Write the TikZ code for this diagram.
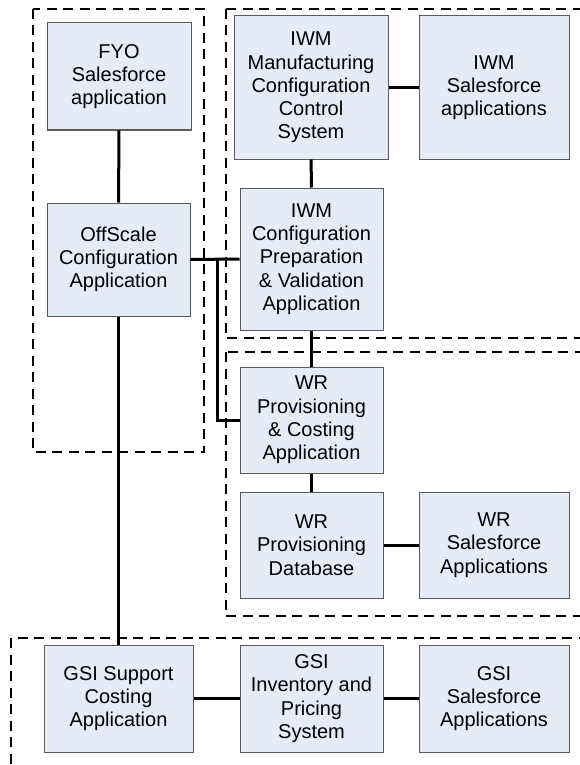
\documentclass[tikz,border=0pt]{standalone}
\usepackage{fontspec}
\setmainfont{Liberation Sans}
\definecolor{boxfill}{RGB}{230,236,246}
\definecolor{boxline}{RGB}{90,90,90}
\tikzset{
  sysbox/.style={draw=boxline,fill=boxfill,line width=1pt,align=center,
    inner sep=2pt,font=\fontsize{20}{23.3}\selectfont},
  grp/.style={line width=2pt,dash pattern=on 10pt off 6.5pt},
  link/.style={line width=3pt}
}
\begin{document}
\begin{tikzpicture}[x=1pt,y=-1pt]
    \useasboundingbox (0,0) rectangle (580,765);
    \clip (0,0) rectangle (580,765);
    % groups
    \draw[grp] (33,9) rectangle (204,452);
    \draw[grp] (226,9) rectangle (595,338);
    \draw[grp] (226,352) rectangle (595,616);
    \draw[grp] (11,638) rectangle (595,780);
    % systems
    \node[sysbox,minimum width=144pt,minimum height=107pt] (fyo) at (119,76.5) {FYO\\Salesforce\\application};
    \node[sysbox,minimum width=143pt,minimum height=113pt] (offscale) at (118.5,259.5) {OffScale\\Configuration\\Application};
    \node[sysbox,minimum width=154pt,minimum height=143pt] (mccs) at (311,87.5) {IWM\\Manufacturing\\Configuration\\Control\\System};
    \node[sysbox,minimum width=150pt,minimum height=143pt] (iwmsf) at (494,87.5) {IWM\\Salesforce\\applications};
    \node[sysbox,minimum width=143pt,minimum height=142pt] (cpv) at (311.5,259) {IWM\\Configuration\\Preparation\\\& Validation\\Application};
    \node[sysbox,minimum width=143pt,minimum height=106pt] (wrpc) at (311.5,420) {WR\\Provisioning\\\& Costing\\Application};
    \node[sysbox,minimum width=143pt,minimum height=106pt] (wrdb) at (311.5,545) {WR\\Provisioning\\Database};
    \node[sysbox,minimum width=150pt,minimum height=106pt] (wrsf) at (494,545) {WR\\Salesforce\\Applications};
    \node[sysbox,minimum width=149pt,minimum height=107pt] (gsisup) at (118.5,698.5) {GSI Support\\Costing\\Application};
    \node[sysbox,minimum width=143pt,minimum height=107pt] (gsiinv) at (311.5,698.5) {GSI\\Inventory and\\Pricing\\System};
    \node[sysbox,minimum width=150pt,minimum height=107pt] (gsisf) at (494,698.5) {GSI\\Salesforce\\Applications};
    % links
    \draw[link] (fyo) -- (offscale);
    \draw[link] (offscale) -- (gsisup);
    \draw[link] (mccs) -- (iwmsf);
    \draw[link] (mccs) -- (cpv);
    \draw[link] (cpv) -- (wrpc);
    \draw[link] (wrpc) -- (wrdb);
    \draw[link] (wrdb) -- (wrsf);
    \draw[link] (gsisup) -- (gsiinv);
    \draw[link] (gsiinv) -- (gsisf);
    \draw[link] (offscale.east) -- (cpv.west);
    \coordinate (br) at (217,259);
    \draw[link] (br) |- (wrpc.west);
\end{tikzpicture}
\end{document}
